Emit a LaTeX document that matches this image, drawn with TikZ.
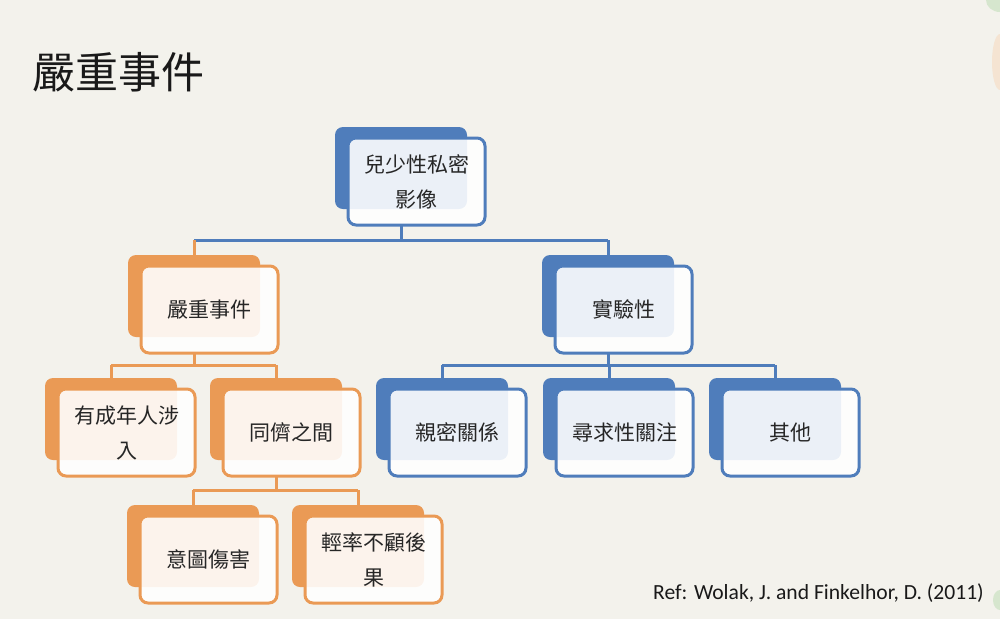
\documentclass[tikz,border=0pt]{standalone}
\usepackage{fontspec}
\setmainfont{Noto Sans CJK TC}
\newfontfamily\reffont{Carlito}
\definecolor{bgpaper}{HTML}{F3F2EC}
\definecolor{myblue}{HTML}{4F7DBB}
\definecolor{myorange}{HTML}{EA9A55}
\definecolor{leafgreen}{HTML}{D6E6CE}
\definecolor{peach}{HTML}{F5E4D2}
\tikzset{
  backbox/.style={rounded corners=8pt, minimum width=132pt, minimum height=82pt, anchor=north west, inner sep=0pt, outer sep=0pt},
  frontbox/.style={rounded corners=8pt, line width=3pt, fill=white, fill opacity=0.89, text opacity=1, minimum width=137pt, minimum height=87pt, anchor=north west, inner sep=0pt, outer sep=0pt, font=\fontsize{21}{35}\selectfont, align=center, text=black!85},
  bluebox/.style={backbox, fill=myblue},
  orangebox/.style={backbox, fill=myorange},
  bluefront/.style={frontbox, draw=myblue},
  orangefront/.style={frontbox, draw=myorange},
  blueline/.style={draw=myblue, line width=3pt},
  orangeline/.style={draw=myorange, line width=3pt},
}
\begin{document}
\begin{tikzpicture}[x=1pt,y=-1pt]
\fill[bgpaper] (0,0) rectangle (1000,619);
\useasboundingbox (0,0) rectangle (1000,619);
% faint edge decorations
\fill[leafgreen] (1000,0) ellipse [x radius=14pt, y radius=12pt];
\fill[peach] (1000,62) ellipse [x radius=8pt, y radius=28pt];
\fill[leafgreen] (1000,600) ellipse [x radius=7pt, y radius=10pt];

% title
\node[anchor=west, inner sep=0pt, font=\fontsize{43}{47}\selectfont, text=black!90] (title) at (32,72) {嚴重事件};

% bus levels
\coordinate (busA) at (0,240);
\coordinate (busB) at (0,365);
\coordinate (busC) at (0,365);
\coordinate (busD) at (0,490);

% boxes: back
\node[bluebox] (topB) at (335,127) {};
\node[orangebox] (sevB) at (128,255) {};
\node[bluebox] (expB) at (542,255) {};
\node[orangebox] (adultB) at (45,378) {};
\node[orangebox] (peerB) at (210,378) {};
\node[orangebox] (harmB) at (127,505) {};
\node[orangebox] (reckB) at (292,505) {};
\node[bluebox] (romB) at (376,378) {};
\node[bluebox] (attB) at (543,378) {};
\node[bluebox] (othB) at (709,378) {};

% fronts
\node[bluefront] (topF) at (348,138) {兒少性私密\\影像};
\node[orangefront] (sevF) at (141,266) {嚴重事件};
\node[bluefront] (expF) at (555,266) {實驗性};
\node[orangefront] (adultF) at (58,389) {有成年人涉\\入};
\node[orangefront] (peerF) at (223,389) {同儕之間};
\node[orangefront] (harmF) at (140,516) {意圖傷害};
\node[orangefront] (reckF) at (305,516) {輕率不顧後\\果};
\node[bluefront] (romF) at (389,389) {親密關係};
\node[bluefront] (attF) at (556,389) {尋求性關注};
\node[bluefront] (othF) at (722,389) {其他};

% connectors
\draw[blueline] (topB.center |- topF.south) -- (topB.center |- busA)
  (sevB.north |- busA) -- (expB.north |- busA);
\draw[blueline] (expB.north |- busA) -- (expB.north);
\draw[orangeline] (sevB.north |- busA) -- (sevB.north);

\draw[orangeline] (sevB.center |- sevF.south) -- (sevB.center |- busB)
  (adultB.north |- busB) -- (peerB.north |- busB)
  (adultB.north |- busB) -- (adultB.north)
  (peerB.north |- busB) -- (peerB.north);

\draw[orangeline] (peerB.center |- peerF.south) -- (peerB.center |- busD)
  (harmB.north |- busD) -- (reckB.north |- busD)
  (harmB.north |- busD) -- (harmB.north)
  (reckB.north |- busD) -- (reckB.north);

\draw[blueline] (expB.center |- expF.south) -- (expB.center |- busC)
  (romB.north |- busC) -- (othB.north |- busC)
  (romB.north |- busC) -- (romB.north)
  (attB.north |- busC) -- (attB.north)
  (othB.north |- busC) -- (othB.north);

% reference
\node[anchor=west, inner sep=0pt, font=\reffont\fontsize{21.6}{26}\selectfont, text=black!90] (ref) at (653,593) {Ref: Wolak, J. and Finkelhor, D. (2011)};
\end{tikzpicture}
\end{document}
